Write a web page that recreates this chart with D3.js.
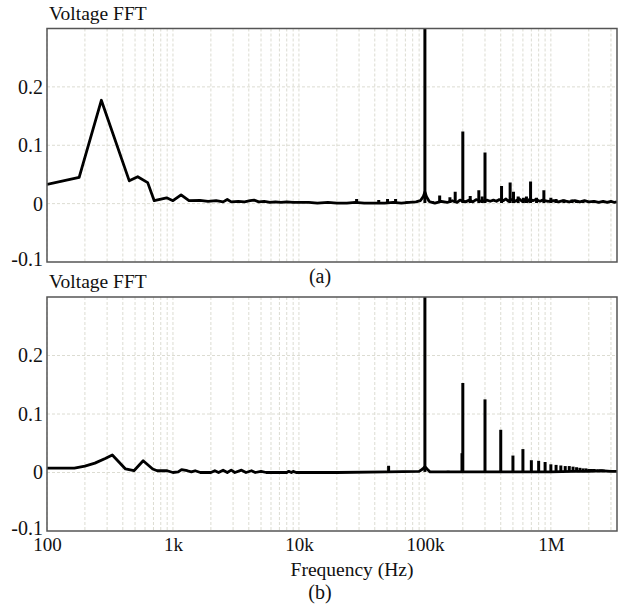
<!DOCTYPE html>
<html>
<head>
<meta charset="utf-8">
<script src="https://cdn.jsdelivr.net/npm/d3@7"></script>
<style>
  body { margin: 0; background: #fff; }
</style>
</head>
<body>
<div id="chart"></div>
<script>
const serif = "'Liberation Serif', 'Times New Roman', serif";

// frequency axis labels
const xTickValues = [100, 1e3, 1e4, 1e5, 1e6];
const xTickLabels = ["100", "1k", "10k", "100k", "1M"];
const yTickValues = [-0.1, 0, 0.1, 0.2];
const yTickLabels = ["-0.1", "0", "0.1", "0.2"];

// (a) continuous trace
const traceAFreq = [100, 180, 270, 450, 525, 630, 710, 890, 1000, 1160, 1340, 1640, 1900, 2200, 2500, 2700, 2900, 3300, 3700, 4100, 4400, 4800, 5300, 5900, 6500, 7200, 8000, 9000, 10000, 12000, 14000, 17000, 20000, 24000, 28000, 33000, 40000, 48000, 56000, 65000, 75000, 85000, 92000, 97000, 100000, 103000, 108000,
  110000, 120000, 135000, 150000, 165000, 180000, 190000, 210000, 225000, 240000, 255000, 280000, 310000, 330000, 350000, 370000, 390000, 420000, 440000, 460000, 490000, 520000, 560000, 590000, 620000, 660000, 680000, 720000, 760000, 820000, 860000, 950000, 1050000, 1150000, 1250000, 1400000, 1550000, 1700000, 1850000, 2000000, 2200000, 2400000, 2600000, 2800000, 3000000, 3200000, 3350000];
const traceAVal = [0.033, 0.045, 0.177, 0.039, 0.046, 0.036, 0.005, 0.010, 0.005, 0.015, 0.005, 0.0055, 0.004, 0.005, 0.003, 0.007, 0.003, 0.004, 0.003, 0.005, 0.006, 0.003, 0.004, 0.002, 0.003, 0.002, 0.003, 0.002, 0.002, 0.002, 0.001, 0.002, 0.001, 0.001, 0.002, 0.001, 0.001, 0.001, 0.002, 0.001, 0.002, 0.003, 0.005, 0.012, 0.02, 0.012, 0.004,
  0.003, 0.001, 0.004, 0.002, 0.005, 0.002, 0.006, 0.003, 0.006, 0.003, 0.007, 0.004, 0.006, 0.004, 0.006, 0.004, 0.007, 0.005, 0.008, 0.004, 0.007, 0.004, 0.008, 0.004, 0.006, 0.004, 0.008, 0.005, 0.007, 0.004, 0.006, 0.004, 0.005, 0.003, 0.005, 0.003, 0.005, 0.003, 0.005, 0.003, 0.004, 0.002, 0.004, 0.002, 0.004, 0.002, 0.003];

// (a) spikes
const spikeAFreq = [28700, 43000, 50500, 58500, 72000, 100000, 115000, 131000, 158000, 174000, 200000, 229000, 268000, 285000, 300000, 406000, 475000, 505000, 550000, 605000, 640000, 690000, 770000, 880000, 1000000, 1100000, 1270000, 1470000, 1600000, 1800000, 2200000, 2700000];
const spikeAVal = [0.008, 0.006, 0.008, 0.008, 0.004, 0.3, 0.004, 0.014, 0.011, 0.0205, 0.1235, 0.013, 0.023, 0.012, 0.0875, 0.030, 0.036, 0.0205, 0.012, 0.010, 0.012, 0.038, 0.010, 0.023, 0.010, 0.008, 0.007, 0.007, 0.006, 0.005, 0.005, 0.004];

// (b) continuous trace
const traceBFreq = [100, 165, 200, 240, 290, 330, 420, 490, 580, 690, 750, 900, 1000, 1100, 1170, 1300, 1400, 1500, 1650, 2000, 2150, 2300, 2500, 2700, 2900, 3100, 3500, 3800, 4200, 4500, 5000, 5500, 8000, 8300, 8700, 9000, 9500, 20000, 50000, 90000, 96000, 100000, 104000, 110000, 1000000, 1500000, 2000000, 2500000, 3000000, 3350000];
const traceBVal = [0.0075, 0.0075, 0.011, 0.016, 0.024, 0.030, 0.006, 0.003, 0.020, 0.006, 0.003, 0.003, 0.0, 0.001, 0.005, 0.003, 0.001, 0.003, 0.0, 0.0, 0.003, 0.0, 0.004, 0.0, 0.004, 0.0, 0.004, 0.0, 0.003, 0.0, 0.002, 0.0, 0.0, 0.002, 0.0, 0.002, 0.0, 0.0, 0.001, 0.002, 0.006, 0.01, 0.006, 0.001, 0.001, 0.002, 0.002, 0.003, 0.002, 0.002];

// (b) spikes
const spikeBFreq = [51500, 100000, 153000, 197000, 200000, 300000, 400000, 500000, 600000, 700000, 800000, 900000, 1000000, 1100000, 1200000, 1300000, 1400000, 1500000, 1600000, 1700000, 1800000, 1900000, 2000000, 2100000, 2200000, 2300000, 2400000, 2500000, 2600000, 2700000, 2800000, 2900000, 3000000, 3100000, 3200000];
const spikeBVal = [0.0115, 0.3, 0.003, 0.033, 0.153, 0.125, 0.073, 0.029, 0.040, 0.021, 0.020, 0.018, 0.014, 0.013, 0.012, 0.011, 0.011, 0.010, 0.009, 0.008, 0.007, 0.007, 0.006, 0.006, 0.006, 0.005, 0.005, 0.005, 0.005, 0.004, 0.004, 0.004, 0.004, 0.003, 0.003];

const width = 630, height = 614;
const left = 47, right = 617;
const panels = [
  { top: 28.5, bottom: 262, title: "Voltage FFT", titleY: 20, tag: "(a)", tagY: 283,
    tf: traceAFreq, tv: traceAVal, sf: spikeAFreq, sv: spikeAVal, xLabels: false },
  { top: 297, bottom: 531, title: "Voltage FFT", titleY: 288, tag: "(b)", tagY: 599,
    tf: traceBFreq, tv: traceBVal, sf: spikeBFreq, sv: spikeBVal, xLabels: true }
];

const svg = d3.select("#chart").append("svg")
  .attr("width", width)
  .attr("height", height);

const x = d3.scaleLog().domain([100, 3.35e6]).range([left, right]);

panels.forEach((p, i) => {
  const y = d3.scaleLinear().domain([-0.1, 0.3]).range([p.bottom, p.top]);
  const g = svg.append("g");

  g.append("clipPath").attr("id", "clip" + i)
    .append("rect")
    .attr("x", left).attr("y", p.top)
    .attr("width", right - left).attr("height", p.bottom - p.top);

  // grid
  g.append("g").selectAll("line")
    .data(x.ticks())
    .join("line")
    .attr("x1", d => x(d)).attr("x2", d => x(d))
    .attr("y1", p.top).attr("y2", p.bottom)
    .attr("stroke", "#dcdcd2")
    .attr("stroke-width", 1)
    .attr("stroke-dasharray", "3,2");
  g.append("g").selectAll("line")
    .data([0, 0.1, 0.2])
    .join("line")
    .attr("x1", left).attr("x2", right)
    .attr("y1", d => y(d)).attr("y2", d => y(d))
    .attr("stroke", "#dcdcd2")
    .attr("stroke-width", 1)
    .attr("stroke-dasharray", "3,2");

  // y axis labels
  const yAxis = g.append("g")
    .attr("transform", `translate(${left},0)`)
    .call(d3.axisLeft(y).tickValues(yTickValues).tickSize(0).tickPadding(4)
      .tickFormat((d, k) => yTickLabels[k]));
  yAxis.select(".domain").remove();
  yAxis.selectAll("text")
    .style("font-family", serif).style("font-size", "20px").style("fill", "#111")
    .attr("dy", d => d === -0.1 ? "0.15em" : "0.32em");

  if (p.xLabels) {
    const xAxis = g.append("g")
      .attr("transform", `translate(0,${p.bottom})`)
      .call(d3.axisBottom(x).tickValues(xTickValues).tickSize(0).tickPadding(7)
        .tickFormat((d, k) => xTickLabels[k]));
    xAxis.select(".domain").remove();
    xAxis.selectAll("text")
      .style("font-family", serif).style("font-size", "19px").style("fill", "#111");

    g.append("text")
      .attr("x", 352).attr("y", 576)
      .attr("text-anchor", "middle")
      .style("font-family", serif)
      .style("font-size", "19.5px")
      .style("fill", "#111")
      .text("Frequency (Hz)");
  }

  const plot = g.append("g").attr("clip-path", `url(#clip${i})`);

  // trace
  const pts = p.tf.map((f, k) => [f, p.tv[k]]);
  plot.append("path")
    .datum(pts)
    .attr("d", d3.line().x(d => x(d[0])).y(d => y(d[1])))
    .attr("fill", "none")
    .attr("stroke", "#000")
    .attr("stroke-width", 2.8)
    .attr("stroke-linejoin", "round");

  // harmonic spikes
  plot.append("g").selectAll("line")
    .data(p.sf.map((f, k) => [f, p.sv[k]]))
    .join("line")
    .attr("x1", d => x(d[0])).attr("x2", d => x(d[0]))
    .attr("y1", y(0.001)).attr("y2", d => y(d[1]))
    .attr("stroke", "#000")
    .attr("stroke-width", 3);

  // frame
  g.append("rect")
    .attr("x", left).attr("y", p.top)
    .attr("width", right - left).attr("height", p.bottom - p.top)
    .attr("fill", "none")
    .attr("stroke", "#555")
    .attr("stroke-width", 1.5);

  g.append("text")
    .attr("x", 49).attr("y", p.titleY)
    .style("font-family", serif)
    .style("font-size", "19.5px")
    .style("fill", "#111")
    .text(p.title);

  g.append("text")
    .attr("x", 320).attr("y", p.tagY)
    .attr("text-anchor", "middle")
    .style("font-family", serif)
    .style("font-size", "20px")
    .style("fill", "#111")
    .text(p.tag);
});
</script>
</body>
</html>
